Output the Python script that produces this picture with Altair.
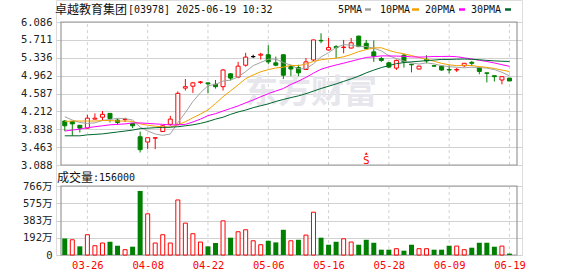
import altair as alt
import pandas as pd

# ---------------- data ----------------
dates = ["03-21", "03-24", "03-25", "03-26", "03-27", "03-28", "03-31",
         "04-01", "04-02", "04-03", "04-07", "04-08", "04-09", "04-10", "04-11",
         "04-14", "04-15", "04-16", "04-17", "04-22", "04-23", "04-24", "04-25",
         "04-28", "04-29", "04-30",
         "05-02", "05-06", "05-07", "05-08", "05-09", "05-12", "05-13", "05-14",
         "05-15", "05-16", "05-19", "05-20", "05-21", "05-22", "05-23", "05-26",
         "05-27", "05-28", "05-29", "05-30",
         "06-02", "06-03", "06-04", "06-05", "06-06", "06-09", "06-10", "06-11",
         "06-12", "06-13", "06-16", "06-17", "06-18", "06-19"]

open_ = [4.01, 4.00, 3.92, 3.86, 4.05, 4.09, 4.17, 4.03, 4.04, 3.96,
         3.68, 3.57, 3.65, 3.79, 3.94, 3.94, 4.70, 4.74, 4.82, 4.81,
         4.78, 4.73, 5.00, 4.93, 5.18, 5.36, 5.39, 5.40, 5.23, 5.40,
         5.15, 5.13, 5.09, 5.29, 5.70, 5.50, 5.57, 5.55, 5.54, 5.79,
         5.64, 5.46, 5.32, 5.23, 5.12, 5.39, 5.20, 5.10, 5.30, 5.17,
         5.16, 5.09, 5.08, 5.17, 5.24, 5.13, 5.02, 4.96, 4.87, 4.91]
high = [4.03, 4.01, 3.93, 4.14, 4.17, 4.22, 4.17, 4.06, 4.08, 3.96,
        3.79, 3.66, 3.67, 3.92, 4.12, 4.63, 4.89, 4.83, 4.85, 4.81,
        4.87, 5.10, 5.01, 5.25, 5.44, 5.40, 5.44, 5.60, 5.36, 5.40,
        5.19, 5.19, 5.33, 5.72, 5.85, 5.75, 5.60, 5.71, 5.75, 5.80,
        5.71, 5.70, 5.36, 5.25, 5.30, 5.42, 5.21, 5.17, 5.39, 5.18,
        5.17, 5.18, 5.12, 5.22, 5.27, 5.13, 5.02, 4.96, 4.94, 4.91]
low = [3.80, 3.70, 3.77, 3.85, 4.04, 4.03, 3.98, 3.93, 3.99, 3.86,
       3.35, 3.42, 3.42, 3.78, 3.91, 3.93, 4.65, 4.60, 4.79, 4.59,
       4.69, 4.65, 4.86, 4.91, 5.15, 5.33, 5.30, 5.20, 5.16, 4.89,
       4.95, 4.95, 5.08, 5.27, 5.64, 5.49, 5.33, 5.43, 5.53, 5.56,
       5.50, 5.25, 5.25, 5.13, 5.08, 5.13, 5.03, 5.09, 5.22, 5.15,
       5.06, 5.01, 5.04, 5.14, 5.16, 4.99, 4.82, 4.84, 4.78, 4.85]
close = [3.91, 3.95, 3.86, 4.07, 4.07, 4.15, 4.06, 3.98, 4.05, 3.91,
         3.41, 3.66, 3.66, 3.91, 4.05, 4.59, 4.73, 4.81, 4.83, 4.79,
         4.73, 5.08, 4.91, 5.16, 5.35, 5.36, 5.41, 5.25, 5.18, 4.97,
         5.10, 5.02, 5.25, 5.71, 5.69, 5.55, 5.55, 5.56, 5.65, 5.57,
         5.53, 5.37, 5.28, 5.14, 5.28, 5.25, 5.19, 5.16, 5.27, 5.16,
         5.08, 5.08, 5.09, 5.22, 5.22, 5.05, 5.01, 4.94, 4.94, 4.85]

# volume in 万 shares
volume = [184, 169, 96, 225, 103, 133, 147, 103, 59, 92,
          711, 457, 133, 225, 133, 611, 354, 236, 144, 96,
          133, 379, 192, 258, 280, 158, 114, 158, 140, 280,
          158, 169, 221, 475, 192, 114, 147, 180, 144, 114,
          169, 136, 59, 59, 70, 48, 114, 70, 70, 59,
          59, 103, 99, 59, 81, 136, 136, 92, 99, 15.6]
vol_dir = ["down", "up", "down", "up", "up", "up", "down", "down", "up", "down",
           "down", "up", "up", "up", "up", "up", "up", "up", "up", "down",
           "down", "up", "down", "up", "up", "up", "up", "down", "down", "down",
           "up", "down", "up", "up", "down", "down", "down", "up", "up", "down",
           "down", "down", "down", "down", "up", "down", "down", "up", "up", "down",
           "down", "down", "up", "up", "down", "down", "down", "down", "up", "down"]

ma5 = [4.10, 4.03, 3.98, 3.96, 3.972, 4.02, 4.042, 4.066, 4.062, 4.03,
       3.882, 3.802, 3.738, 3.71, 3.738, 3.974, 4.188, 4.418, 4.602, 4.75,
       4.778, 4.848, 4.868, 4.934, 5.046, 5.172, 5.238, 5.306, 5.31, 5.234,
       5.182, 5.104, 5.104, 5.21, 5.354, 5.444, 5.55, 5.612, 5.60, 5.576,
       5.572, 5.536, 5.48, 5.378, 5.32, 5.264, 5.228, 5.204, 5.23, 5.206,
       5.172, 5.15, 5.136, 5.126, 5.138, 5.132, 5.118, 5.088, 5.032, 4.958]
ma10 = [4.00, 4.01, 4.01, 4.01, 4.01, 4.02, 4.02, 4.01, 4.01, 4.001,
        3.951, 3.922, 3.902, 3.886, 3.884, 3.928, 3.995, 4.078, 4.156, 4.244,
        4.376, 4.518, 4.643, 4.768, 4.898, 4.975, 5.043, 5.087, 5.122, 5.14,
        5.177, 5.171, 5.205, 5.26, 5.294, 5.313, 5.327, 5.358, 5.405, 5.465,
        5.508, 5.543, 5.546, 5.489, 5.448, 5.418, 5.382, 5.342, 5.304, 5.263,
        5.218, 5.189, 5.17, 5.178, 5.172, 5.152, 5.134, 5.112, 5.079, 5.048]
ma20 = [3.80, 3.82, 3.84, 3.87, 3.89, 3.91, 3.93, 3.94, 3.95, 3.97,
        3.97, 3.96, 3.95, 3.94, 3.93, 3.93, 3.94, 3.99, 4.05, 4.123,
        4.164, 4.22, 4.273, 4.327, 4.391, 4.452, 4.519, 4.583, 4.639, 4.692,
        4.777, 4.845, 4.924, 5.014, 5.096, 5.144, 5.185, 5.223, 5.264, 5.303,
        5.343, 5.357, 5.376, 5.375, 5.371, 5.366, 5.355, 5.35, 5.355, 5.364,
        5.363, 5.366, 5.358, 5.334, 5.31, 5.285, 5.258, 5.227, 5.192, 5.156]
ma30 = [3.70, 3.70, 3.70, 3.72, 3.73, 3.74, 3.76, 3.78, 3.80, 3.82,
        3.85, 3.86, 3.87, 3.875, 3.88, 3.89, 3.91, 3.93, 3.96, 4.00,
        4.05, 4.09, 4.15, 4.20, 4.24, 4.29, 4.33, 4.37, 4.42, 4.462,
        4.501, 4.537, 4.583, 4.638, 4.692, 4.739, 4.788, 4.841, 4.894, 4.95,
        5.02, 5.077, 5.131, 5.172, 5.213, 5.235, 5.251, 5.262, 5.277, 5.289,
        5.301, 5.301, 5.307, 5.309, 5.305, 5.294, 5.281, 5.271, 5.263, 5.259]

price_ticks = [3.088, 3.463, 3.838, 4.212, 4.587, 4.962, 5.336, 5.711, 6.086]
vol_ticks = [0, 192, 383, 575, 766]
date_ticks = [3, 11, 19, 27, 35, 43, 51, 59]
title_cjk = "卓越教育集团"
title_rest = "[03978] 2025-06-19 10:32"
vol_cjk = "成交量"
vol_rest = ":156000"
ma_names = ["5PMA", "10PMA", "20PMA", "30PMA"]
watermark = "东方财富"
marker_idx = [40]
marker_txt = ["S"]

# ---------------- styles ----------------
RED = "#ff0000"
GREEN = "#008000"
BLACK = "#000000"
FRAME = "#999999"
GRID = "#d2d2d2"
MA_COLORS = ["#a3a3a3", "#f2a100", "#ff00ff", "#00662e"]
MONO = "DejaVu Sans Mono, Noto Sans CJK SC"
CJK = "Noto Sans CJK SC"
W, H = 466, 255

n = len(dates)
kind = ["up" if c > o else ("down" if c < o else "flat") for o, c in zip(open_, close)]
df = pd.DataFrame({
    "i": list(range(n)), "date": dates, "open": open_, "high": high, "low": low,
    "close": close, "kind": kind, "vol": volume, "vdir": vol_dir,
    "ma5": ma5, "ma10": ma10, "ma20": ma20, "ma30": ma30,
})

x_domain = [-0.5, n]
label_expr = "[" + ",".join("'%s'" % d for d in dates) + "][datum.value]"
x_scale = alt.Scale(domain=x_domain, nice=False, zero=False)
x_axis = alt.Axis(values=date_ticks, labelExpr=label_expr, title=None, grid=False,
                  domain=False, ticks=False, tickSize=0, labelColor=RED, labelFont=MONO,
                  labelFontSize=10.5, labelPadding=5, labelAngle=0, labelFlush=False,
                  labelOverlap=False)


def X(field):
    return alt.X(field + ":Q", scale=x_scale, axis=x_axis)


price_scale = alt.Scale(domain=[price_ticks[0], price_ticks[-1]], range=[165, 22],
                        nice=False, zero=False)
price_axis = alt.Axis(values=price_ticks, format=".3f", title=None, orient="left",
                      domain=False, ticks=False, tickSize=0, grid=True, gridColor=GRID,
                      gridWidth=1, labelFont=MONO, labelFontSize=10.5, labelColor="#222222",
                      labelPadding=4, labelFlush=False, labelOverlap=False)


def PY(field):
    return alt.Y(field + ":Q", scale=price_scale, axis=price_axis)


vol_scale = alt.Scale(domain=[0, vol_ticks[-1]], range=[255, 186], nice=False, zero=True)
vol_axis = alt.Axis(values=vol_ticks, labelExpr="datum.value == 0 ? '0' : datum.value + '万'",
                    title=None, orient="left", domain=False, ticks=False, tickSize=0,
                    grid=True, gridColor=GRID, gridWidth=1, labelFont=MONO,
                    labelFontSize=10.5, labelColor="#222222", labelPadding=4,
                    labelFlush=False, labelOverlap=False)


def VY(field):
    return alt.Y(field + ":Q", scale=vol_scale, axis=vol_axis)


vg = pd.DataFrame({"i": date_ticks, "lo": price_ticks[0], "hi": price_ticks[-1],
                   "v0": vol_ticks[0], "v1": vol_ticks[-1]})
fr = pd.DataFrame({"x0": [x_domain[0]], "x1": [x_domain[1]], "lo": [price_ticks[0]],
                   "hi": [price_ticks[-1]], "v0": [vol_ticks[0]], "v1": [vol_ticks[-1]]})
one = pd.DataFrame({"t": [watermark]})

# ---------------- price panel ----------------
wm = alt.Chart(one).mark_text(font=CJK, fontSize=33, fontWeight="bold", color="#e6e6ec",
                              align="center", baseline="middle").encode(
    x=alt.value(255), y=alt.value(93), text="t:N")

vgrid_p = alt.Chart(vg).mark_rule(color=GRID, strokeDash=[3, 3], strokeWidth=1).encode(
    x=X("i"), y=PY("lo"), y2="hi")
frame_p = alt.Chart(fr).mark_rect(filled=False, stroke=FRAME, strokeWidth=1.2).encode(
    x=X("x0"), x2="x1", y=PY("lo"), y2="hi")

wicks = alt.Chart(df).mark_rule(strokeWidth=1).encode(
    x=X("i"), y=PY("low"), y2="high",
    color=alt.Color("kind:N", scale=alt.Scale(domain=["up", "down", "flat"],
                                              range=[RED, GREEN, BLACK]), legend=None))
body_up = alt.Chart(df).transform_filter("datum.kind == 'up'").mark_bar(
    size=4, fill="white", stroke=RED, strokeWidth=1).encode(x=X("i"), y=PY("open"), y2="close")
body_dn = alt.Chart(df).transform_filter("datum.kind == 'down'").mark_bar(
    size=4, fill=GREEN, stroke=GREEN, strokeWidth=1).encode(x=X("i"), y=PY("open"), y2="close")
body_fl = alt.Chart(df).transform_filter("datum.kind == 'flat'").mark_bar(
    size=4, fill=BLACK, stroke=BLACK, strokeWidth=1).encode(x=X("i"), y=PY("open"), y2="close")

ma_layers = []
for f, c in zip(["ma5", "ma10", "ma20", "ma30"], MA_COLORS):
    ma_layers.append(alt.Chart(df).mark_line(color=c, strokeWidth=1).encode(x=X("i"), y=PY(f)))

mk = pd.DataFrame({"i": marker_idx, "t": marker_txt})
mk_text = alt.Chart(mk).mark_text(font=MONO, fontSize=11, color=RED, baseline="middle",
                                  align="center").encode(x=X("i"), y=alt.value(160.5), text="t:N")
mk_tri = alt.Chart(mk).mark_point(shape="triangle-up", filled=True, size=10, color=RED,
                                  opacity=1).encode(x=X("i"), y=alt.value(153.5))

price = alt.layer(vgrid_p, wm, frame_p, wicks, body_up, body_dn, body_fl, *ma_layers,
                  mk_text, mk_tri)

# ---------------- volume panel ----------------
vgrid_v = alt.Chart(vg).mark_rule(color=GRID, strokeDash=[3, 3], strokeWidth=1).encode(
    x=X("i"), y=VY("v0"), y2="v1")
frame_v = alt.Chart(fr).mark_rect(filled=False, stroke=FRAME, strokeWidth=1.2).encode(
    x=X("x0"), x2="x1", y=VY("v0"), y2="v1")
vol_up = alt.Chart(df).transform_filter("datum.vdir == 'up'").mark_bar(
    size=4, fill="white", stroke=RED, strokeWidth=1).encode(x=X("i"), y=VY("vol"))
vol_dn = alt.Chart(df).transform_filter("datum.vdir == 'down'").mark_bar(
    size=5, fill=GREEN).encode(x=X("i"), y=VY("vol"))

vol = alt.layer(vgrid_v, frame_v, vol_up, vol_dn)

# ---------------- texts (title, legend, volume caption) ----------------
texts = []


def txt(s, x, y, font, size, color="#111111", align="left"):
    d = pd.DataFrame({"t": [s]})
    return alt.Chart(d).mark_text(font=font, fontSize=size, color=color, align=align,
                                  baseline="middle").encode(
        x=alt.value(x), y=alt.value(y), text="t:N")


texts.append(txt(title_cjk, -1, 9.5, CJK, 12))
texts.append(txt(title_rest, 72, 9.5, MONO, 10))
texts.append(txt(vol_cjk, 1, 177.5, CJK, 12))
texts.append(txt(vol_rest, 37, 177.5, MONO, 10))

leg_text_x = [282, 324, 369, 415]
leg_sw_x = [(309, 315), (356, 363), (403, 409), (449, 455)]
for name, c, tx, (s0, s1) in zip(ma_names, MA_COLORS, leg_text_x, leg_sw_x):
    texts.append(txt(name, tx, 9.5, MONO, 10))
    d = pd.DataFrame({"t": [name]})
    texts.append(alt.Chart(d).mark_rule(color=c, strokeWidth=2.5).encode(
        x=alt.value(s0), x2=alt.value(s1), y=alt.value(9.5)))

chart = alt.layer(price, vol, *texts).resolve_scale(y="independent").properties(
    width=W, height=H,
    padding={"left": 56, "right": 56, "top": 0, "bottom": 21},
    autosize=alt.AutoSizeParams(type="none"),
).configure_view(stroke=None).configure(background="white")

chart.save("out.html", embed_options={"renderer": "svg", "actions": False})
